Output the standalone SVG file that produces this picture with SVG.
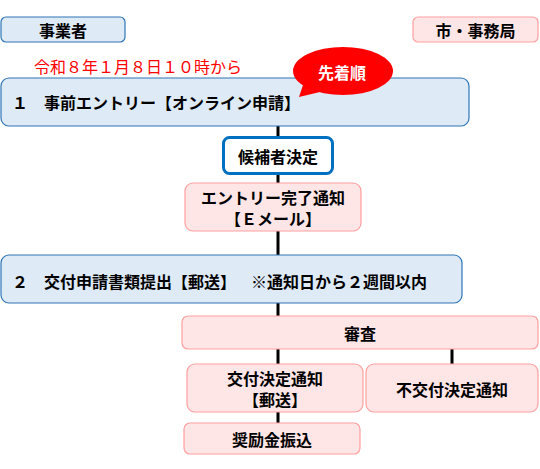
<svg xmlns="http://www.w3.org/2000/svg" width="540" height="469" viewBox="0 0 540 469">
<style>
text{font-family:"Noto Sans CJK JP","Noto Sans CJK SC",sans-serif;font-size:16px;fill:#000;font-weight:bold;dominant-baseline:central}
.c{text-anchor:middle}
.blue{fill:#deeaf6;stroke:#2e75b6;stroke-width:1.2}
.pink{fill:#ffe6e6;stroke:#ff9f9f;stroke-width:1.2}
.conn line{stroke:#000;stroke-width:3}
</style>
<rect width="540" height="469" fill="#fff"/>
<g class="conn">
<line x1="278" y1="126" x2="278" y2="137"/>
<line x1="278" y1="174" x2="278" y2="183"/>
<line x1="278" y1="231" x2="278" y2="255"/>
<line x1="278" y1="303" x2="278" y2="316"/>
<line x1="278" y1="349" x2="278" y2="364"/>
<line x1="452" y1="349" x2="452" y2="364"/>
<line x1="278" y1="412" x2="278" y2="423"/>
</g>
<g id="jigyosha"><rect class="blue" x="1" y="17" width="124" height="25" rx="5"/><text class="c" x="63" y="30">事業者</text></g>
<g id="jimukyoku"><rect class="pink" x="413" y="17" width="125" height="25" rx="5"/><text class="c" x="475.5" y="30">市・事務局</text></g>
<g id="date"><text x="34" y="66" style="fill:#ff0000;font-weight:normal">令和８年１月８日１０時から</text></g>
<g id="step1"><rect class="blue" x="1" y="78" width="468" height="48" rx="8"/><text x="12" y="102">１　事前エントリー【オンライン申請】</text></g>
<g id="bubble"><ellipse cx="343" cy="71" rx="50" ry="24" fill="#ff0000"/><polygon points="304,82 320,92 299,97" fill="#ff0000"/><text class="c" x="342" y="72" style="fill:#fff">先着順</text></g>
<g id="kouho"><rect x="223.5" y="137.5" width="109" height="36" rx="6" fill="#fff" stroke="#0070c0" stroke-width="3"/><text class="c" x="278" y="156">候補者決定</text></g>
<g id="entry"><rect class="pink" x="185" y="183" width="176" height="48" rx="8"/><text class="c" x="273" y="197">エントリー完了通知</text><text class="c" x="273" y="218">【Ｅメール】</text></g>
<g id="step2"><rect class="blue" x="1" y="255" width="461" height="48" rx="8"/><text x="12" y="281">２　交付申請書類提出【郵送】<tspan x="251">※通知日から２週間以内</tspan></text></g>
<g id="shinsa"><rect class="pink" x="182" y="316" width="356" height="33" rx="6"/><text class="c" x="360" y="333">審査</text></g>
<g id="koufu"><rect class="pink" x="187" y="364" width="176" height="48" rx="8"/><text class="c" x="275" y="378">交付決定通知</text><text class="c" x="275" y="399">【郵送】</text></g>
<g id="fukoufu"><rect class="pink" x="366" y="364" width="172" height="48" rx="8"/><text class="c" x="452" y="389">不交付決定通知</text></g>
<g id="shoureikin"><rect class="pink" x="184" y="423" width="176" height="31" rx="6"/><text class="c" x="272" y="439">奨励金振込</text></g>
</svg>
